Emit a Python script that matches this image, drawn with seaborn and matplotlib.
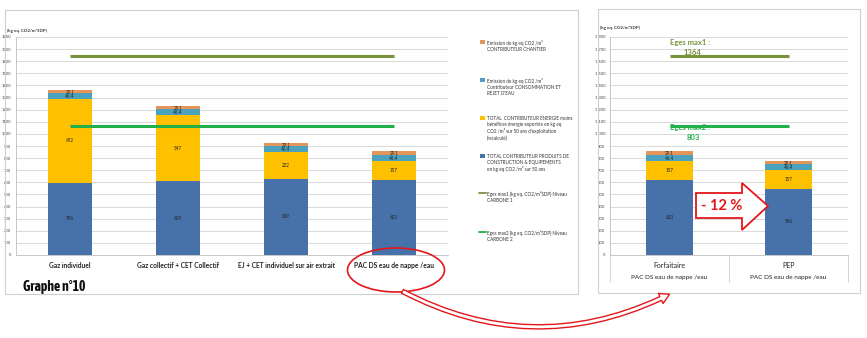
import matplotlib
matplotlib.use("Agg")
import matplotlib.pyplot as plt
import seaborn as sns
import numpy as np
from matplotlib import font_manager
from matplotlib.patches import Rectangle, Ellipse, Polygon, FancyArrowPatch
from matplotlib.lines import Line2D

# ---------------- data ----------------
categories_left = ["Gaz individuel", "Gaz collectif + CET Collectif",
                   "EJ + CET individuel sur air extrait", "PAC DS eau de nappe /eau"]
produits_left = [596, 609, 629, 623]
energie_left = [692, 547, 222, 157]
eau_left = [46.4, 46.4, 46.4, 46.4]
chantier_left = [29.1, 29.1, 29.1, 29.1]

categories_right = ["Forfaitaire", "PEP"]
group_right = "PAC DS eau de nappe /eau"
produits_right = [623, 546]
energie_right = [157, 157]
eau_right = [46.4, 46.4]
chantier_right = [29.1, 29.1]

eges_max1 = 1640
eges_max2 = 1065
eges_max1_label = "1364"
eges_max2_label = "803"
reduction_label = "- 12 %"

legend_labels = [
    "Emission de kg eq CO2 /m²\nCONTRIBUTEUR CHANTIER",
    "Emission de kg eq CO2 /m²\nContributeur CONSOMMATION ET\nREJET D'EAU",
    "TOTAL  CONTRIBUTEUR ENERGIE moins\nbénéfices énergie exportée en kg eq\nCO2 /m² sur 50 ans d'exploitation\n(recalculé)",
    "TOTAL CONTRIBUTEUR PRODUITS DE\nCONSTRUCTION & EQUIPEMENTS\nen kg eq CO2 /m² sur 50 ans",
    "Eges max1 (kg eq. CO2/m²SDP) Niveau\nCARBONE 1",
    "Eges max2 (kg eq. CO2/m²SDP) Niveau\nCARBONE 2",
]

yticks = list(range(0, 1801, 100))

# ---------------- style ----------------
C_BLUE = "#4672A9"
C_YEL = "#FFC000"
C_TEAL = "#4BA2BE"
C_ORA = "#E5955A"
C_OLIVE = "#77933C"
C_GREEN = "#22B04A"
C_RED = "#E3171B"

sns.set_theme(style="white")
plt.rcParams['font.family'] = ['Lato', 'DejaVu Sans']

# condensed bold face for the "Graphe" caption if available
narrow_family = None
for f in font_manager.fontManager.ttflist:
    if ("Narrow" in f.name or "Condensed" in f.name) and f.weight in (700, "bold"):
        narrow_family = f.name
        break
if narrow_family is None:
    for f in font_manager.fontManager.ttflist:
        if "Narrow" in f.name or "Condensed" in f.name:
            narrow_family = f.name
            break

W, H = 867, 338
fig = plt.figure(figsize=(W / 100, H / 100), dpi=100)
fig.patch.set_facecolor("white")


def fx(x):
    return x / W


def fy(y):
    return 1 - y / H


def frame(x0, y0, x1, y1):
    fig.add_artist(Rectangle((fx(x0), fy(y1)), (x1 - x0) / W, (y1 - y0) / H,
                             transform=fig.transFigure, fill=False,
                             ec="#CFCFCF", lw=0.8))


frame(5, 10, 578, 294)
frame(598, 9, 860, 293)


def fmt(v):
    return f"{v:g}".replace(".", ",")


def stacked(ax, cats, layers, colors, width):
    cum = np.zeros(len(cats))
    tops = []
    for vals in layers:
        cum = cum + np.asarray(vals, dtype=float)
        tops.append(cum.copy())
    for i in reversed(range(len(layers))):
        sns.barplot(x=cats, y=tops[i], color=colors[i], width=width,
                    saturation=1, ax=ax, linewidth=0, edgecolor="none")
    for i, vals in enumerate(layers):
        for j, v in enumerate(vals):
            ax.text(j, tops[i][j] - v / 2, fmt(v), ha="center", va="center",
                    fontsize=3.3, color="#222222")
    return tops


def style_axes(ax, sep_thousands):
    ax.set_ylim(0, 1800)
    ax.set_yticks(yticks)
    if sep_thousands:
        ax.set_yticklabels([f"{t:,}".replace(",", " ") for t in yticks])
    ax.tick_params(axis="y", labelsize=3, colors="#444444", length=2,
                   width=0.4, pad=1.5)
    ax.yaxis.grid(True, color="#D9D9D9", lw=0.7)
    ax.set_axisbelow(True)
    for s in ["top", "right"]:
        ax.spines[s].set_visible(False)
    ax.spines["left"].set_color("#BFBFBF")
    ax.spines["left"].set_linewidth(0.6)
    ax.spines["bottom"].set_color("#BFBFBF")
    ax.spines["bottom"].set_linewidth(0.6)
    ax.set_xlabel("")
    ax.set_ylabel("")


layer_colors = [C_BLUE, C_YEL, C_TEAL, C_ORA]

# ---------------- left chart ----------------
axL = fig.add_axes([fx(16), fy(255), 432 / W, 218 / H])
stacked(axL, categories_left,
        [produits_left, energie_left, eau_left, chantier_left],
        layer_colors, 0.41)
style_axes(axL, False)
nL = len(categories_left)
axL.set_xlim(-0.5, nL - 0.5)
axL.plot([0, nL - 1], [eges_max1] * 2, color=C_OLIVE, lw=2.2, solid_capstyle="butt")
axL.plot([0, nL - 1], [eges_max2] * 2, color=C_GREEN, lw=2.2, solid_capstyle="butt")
axL.set_xticks(range(nL))
axL.set_xticklabels(categories_left, fontsize=4.8, fontweight="bold", color="#222222")
axL.tick_params(axis="x", length=0, pad=5)
axL.set_xticks([k + 0.5 for k in range(nL - 1)], minor=True)
axL.tick_params(axis="x", which="minor", length=3, width=0.4, color="#BFBFBF")
fig.text(fx(7), fy(31), "(kg eq. CO2/m²SDP)", fontsize=3.2, fontweight="bold",
         color="#333333", va="center")

if narrow_family is not None:
    fig.text(fx(23), fy(287), "Graphe n°10", fontsize=10, fontweight="bold",
             family=[narrow_family, "DejaVu Sans"], va="center", color="#111111")
else:
    fig.text(fx(23), fy(287), "Graphe n°10", fontsize=8.5, fontweight="bold",
             family=["Roboto", "DejaVu Sans"], va="center", color="#111111",
             fontstretch="condensed")

# legend (manual)
leg_y = [42, 80, 118, 156, 193, 232]
for k, (lab, yy) in enumerate(zip(legend_labels, leg_y)):
    if k < 4:
        col = [C_ORA, C_TEAL, C_YEL, C_BLUE][k]
        fig.add_artist(Rectangle((fx(480), fy(yy + 1.5)), 5 / W, 3 / H,
                                 transform=fig.transFigure, fc=col, ec="none"))
    else:
        col = C_OLIVE if k == 4 else C_GREEN
        fig.add_artist(Line2D([fx(479), fx(486)], [fy(yy), fy(yy)],
                              transform=fig.transFigure, color=col, lw=1.3))
    fig.text(fx(487), fy(yy - 2.5), lab, fontsize=3.3, va="top", ha="left",
             color="#333333", linespacing=1.3)

# ---------------- right chart ----------------
axR = fig.add_axes([fx(610), fy(255), 238 / W, 218 / H])
stacked(axR, categories_right,
        [produits_right, energie_right, eau_right, chantier_right],
        layer_colors, 0.40)
style_axes(axR, True)
nR = len(categories_right)
axR.set_xlim(-0.5, nR - 0.5)
axR.plot([0, nR - 1], [eges_max1] * 2, color=C_OLIVE, lw=2.2, solid_capstyle="butt")
axR.plot([0, nR - 1], [eges_max2] * 2, color=C_GREEN, lw=2.2, solid_capstyle="butt")
axR.set_xticks(range(nR))
axR.set_xticklabels(categories_right, fontsize=5, color="#222222")
axR.tick_params(axis="x", length=0, pad=5)
for j in range(nR):
    axR.text(j, -0.105, group_right, transform=axR.get_xaxis_transform(),
             ha="center", va="center", fontsize=4.6, color="#222222")
for xx in [0, 0.5, 1]:
    axR.add_artist(Line2D([xx, xx], [0, -0.125], transform=axR.transAxes,
                          color="#D0D0D0", lw=0.6, clip_on=False))
axR.text(0.17, 1758, "Eges max1 :", ha="center", va="center", fontsize=5.5,
         fontweight="bold", color=C_OLIVE)
axR.text(0.19, 1676, eges_max1_label, ha="center", va="center", fontsize=5.5,
         fontweight="bold", color=C_OLIVE)
axR.text(0.17, 1050, "Eges max2 :", ha="center", va="center", fontsize=5.5,
         fontweight="bold", color=C_GREEN)
axR.text(0.2, 974, eges_max2_label, ha="center", va="center", fontsize=5.5,
         fontweight="bold", color=C_GREEN)
fig.text(fx(600), fy(28), "(kg eq. CO2/m²SDP)", fontsize=3.2, fontweight="bold",
         color="#333333", va="center")

# ---------------- red annotations ----------------
fig.add_artist(Ellipse((fx(396), fy(270)), 97 / W, 44 / H, transform=fig.transFigure,
                       fill=False, ec=C_RED, lw=1.2))
block = [(696, 193), (742, 193), (742, 183), (768, 206), (742, 230),
         (742, 218), (696, 218)]
fig.add_artist(Polygon([(fx(a), fy(b)) for a, b in block], closed=True,
                       transform=fig.transFigure, fc="white", ec=C_RED, lw=1.3))
fig.text(fx(722), fy(206), reduction_label, fontsize=10.5, fontweight="bold",
         color=C_RED, ha="center", va="center")
arc = FancyArrowPatch((fx(400), fy(290)), (fx(672), fy(293)),
                      transform=fig.transFigure,
                      connectionstyle="arc3,rad=0.26",
                      arrowstyle="simple,head_length=7,head_width=8,tail_width=3",
                      mutation_scale=1, fc="white", ec=C_RED, lw=1.0)
fig.add_artist(arc)

fig.savefig("out.png", dpi=100, facecolor="white")
